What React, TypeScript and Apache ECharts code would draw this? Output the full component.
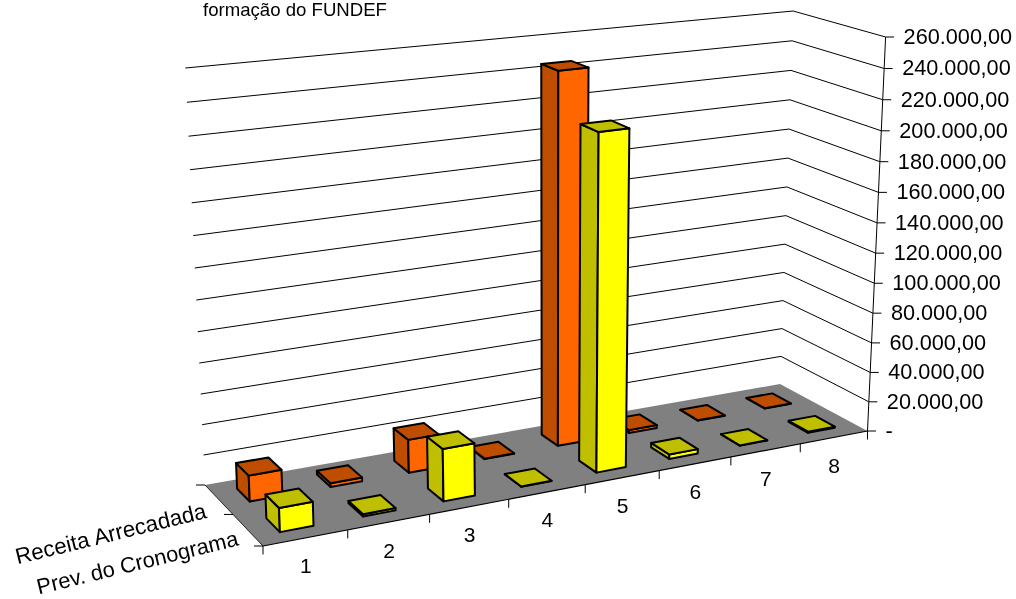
import React, { useEffect, useRef } from "react";
import * as echarts from "echarts";

const categories = ["1", "2", "3", "4", "5", "6", "7", "8"];
const seriesNames = ["Receita Arrecadada", "Prev. do Cronograma"];
const receitaArrecadada = [17000, 2500, 22000, 300, 244000, 2000, 200, 200];
const prevCronograma = [15500, 1500, 34000, 200, 217000, 3000, 200, 800];
const yTicks = [0, 20000, 40000, 60000, 80000, 100000, 120000, 140000, 160000, 180000, 200000, 220000, 240000, 260000];
const yLabels = ["-", "20.000,00", "40.000,00", "60.000,00", "80.000,00", "100.000,00", "120.000,00", "140.000,00", "160.000,00", "180.000,00", "200.000,00", "220.000,00", "240.000,00", "260.000,00"];
const titleText = "formação do FUNDEF";

const FONT = '"Liberation Sans", Arial, sans-serif';
const GRID = { left: 263, top: 37, width: 605, height: 394 };
// screen positions of the floor corners: front-left, front-right, back-right, back-left
const FLOOR = [[263, 546], [867.5, 431], [780, 384], [205, 485]];
// full-scale wall height at those corners, in pixels
const HEIGHTS = [439, 394, 373, 417];
const TILT = 0.057;
const TILT_CENTER = 550;

function homography(q: number[][]) {
  const [[x0, y0], [x1, y1], [x2, y2], [x3, y3]] = q;
  const dx1 = x1 - x2, dx2 = x3 - x2, sx = x0 - x1 + x2 - x3;
  const dy1 = y1 - y2, dy2 = y3 - y2, sy = y0 - y1 + y2 - y3;
  const den = dx1 * dy2 - dx2 * dy1;
  const g = (sx * dy2 - dx2 * sy) / den;
  const h = (dx1 * sy - sx * dy1) / den;
  const a = x1 - x0 + g * x1, b = x3 - x0 + h * x3;
  const d = y1 - y0 + g * y1, e = y3 - y0 + h * y3;
  return (u: number, v: number) => {
    const w = g * u + h * v + 1;
    return [(a * u + b * v + x0) / w, (d * u + e * v + y0) / w];
  };
}
const floorMap = homography(FLOOR);

// category position c in 0..8, row position r in 0..2 (0 = front), value through the chart's scales
function project(api: any, c: number, r: number, value: number) {
  const px = api.coord([c, value]);
  const s = (px[0] - GRID.left) / GRID.width;
  const t = (GRID.top + GRID.height - px[1]) / GRID.height;
  const v = r / 2;
  const a = floorMap(s, v);
  const fullHeight =
    (1 - v) * ((1 - s) * HEIGHTS[0] + s * HEIGHTS[1]) + v * ((1 - s) * HEIGHTS[3] + s * HEIGHTS[2]);
  const k = 0.93 + 0.03 * s;
  const f = (k * t) / (1 - t + k * t);
  return [a[0] + TILT * (a[0] - TILT_CENTER) * f, a[1] - fullHeight * f];
}

const line = (a: number[], b: number[], w = 1) => ({
  type: "line",
  shape: { x1: a[0], y1: a[1], x2: b[0], y2: b[1] },
  style: { stroke: "#000", lineWidth: w, fill: "none" },
});
const text = (s: string, x: number, y: number, align: string, size: number, rotation = 0) => ({
  type: "text",
  x,
  y,
  rotation,
  style: { text: s, fill: "#000", font: `${size}px ${FONT}`, textAlign: align, textVerticalAlign: "middle" },
});

const floorItem = (_: any, api: any) => {
  const c = [project(api, 0, 0, 0), project(api, 8, 0, 0), project(api, 8, 2, 0), project(api, 0, 2, 0)];
  return {
    type: "group",
    children: [
      { type: "polygon", shape: { points: c }, style: { fill: "#808080", stroke: "none" } },
      line(c[0], c[1], 1.2),
      line(c[0], c[3], 0.8),
    ],
  };
};

const wallItem = (params: any, api: any) => {
  const v = api.value(0);
  const idx = params.dataIndex;
  const fr = project(api, 8, 0, v);
  const br = project(api, 8, 2, v);
  const bl = project(api, 0, 2, v);
  const children: any[] = [line(fr, [fr[0] + 8.5, fr[1]])];
  if (v > 0) {
    children.push({
      type: "polyline",
      shape: { points: [bl, br, fr] },
      style: { stroke: "#000", lineWidth: 1, fill: "none" },
    });
  }
  children.push(text(yLabels[idx], fr[0] + 18, fr[1] - 0.5, "left", 21.7));
  return { type: "group", children };
};

const axisItem = (_: any, api: any) => {
  const children: any[] = [];
  const bottom = project(api, 8, 0, 0);
  const top = project(api, 8, 0, yTicks[yTicks.length - 1]);
  children.push(line(top, bottom, 1));
  categories.forEach((name, i) => {
    const p = project(api, i, 0, 0);
    children.push(line(p, [p[0], p[1] + 8.5]));
    const m = project(api, i + 0.5, 0, 0);
    children.push(text(name, m[0], m[1] + 28, "center", 21));
  });
  children.push(line(bottom, [bottom[0], bottom[1] + 8.5]));
  [0, 1, 2].forEach((r) => {
    const p = project(api, 0, r, 0);
    children.push(line(p, [p[0] - 9, p[1]]));
  });
  seriesNames.forEach((name, i) => {
    const r = 1.5 - i;
    const p = project(api, 0, r, 0);
    children.push(text(name, p[0] - 13 + i * 3, p[1] + 11 - i * 3, "right", i === 0 ? 22.3 : 21.8, 0.24));
  });
  return { type: "group", children };
};

const barWidth = 0.4;
const barDepth = 0.44;
const barItem = (row: number, front: string, dark: string) => (_: any, api: any) => {
  const i = api.value(0);
  const v = api.value(1);
  const c0 = i + 0.5 - barWidth / 2, c1 = i + 0.5 + barWidth / 2;
  const r0 = row + 0.5 - barDepth / 2, r1 = row + 0.5 + barDepth / 2;
  const fl0 = project(api, c0, r0, 0), fr0 = project(api, c1, r0, 0);
  const bl0 = project(api, c0, r1, 0);
  const fl1 = project(api, c0, r0, v), fr1 = project(api, c1, r0, v);
  const bl1 = project(api, c0, r1, v), br1 = project(api, c1, r1, v);
  const face = (points: number[][], fill: string) => ({
    type: "polygon",
    shape: { points },
    style: { fill, stroke: "#000", lineWidth: 2, lineJoin: "round" },
  });
  return {
    type: "group",
    children: [
      face([bl0, fl0, fl1, bl1], dark),
      face([fl0, fr0, fr1, fl1], front),
      face([fl1, fr1, br1, bl1], dark),
    ],
  };
};

const titleItem = () => text(titleText, 203, 9, "left", 18.6);

export default function App() {
  const ref = useRef<HTMLDivElement>(null);
  useEffect(() => {
    const chart = echarts.init(ref.current!, undefined, { renderer: "svg" });
    const base = { type: "custom", silent: true, coordinateSystem: "cartesian2d", clip: false };
    chart.setOption({
      animation: false,
      grid: { ...GRID },
      xAxis: { type: "value", min: 0, max: categories.length, show: false },
      yAxis: { type: "value", min: 0, max: 260000, interval: 20000, show: false },
      series: [
        { ...base, name: "titulo", data: [[0, 0]], renderItem: titleItem },
        { ...base, name: "piso", data: [[0, 0]], renderItem: floorItem },
        { ...base, name: "paredes", encode: { y: 0 }, data: yTicks.map((v) => [v]), renderItem: wallItem },
        { ...base, name: "eixos", data: [[0, 0]], renderItem: axisItem },
        { ...base, name: seriesNames[0], data: receitaArrecadada.map((v, i) => [i, v]), renderItem: barItem(1, "#FF6600", "#BF4D00") },
        { ...base, name: seriesNames[1], data: prevCronograma.map((v, i) => [i, v]), renderItem: barItem(0, "#FFFF00", "#BFBF00") },
      ],
    });
    return () => chart.dispose();
  }, []);
  return <div ref={ref} style={{ position: "fixed", left: 0, top: 0, width: 1016, height: 599 }} />;
}
